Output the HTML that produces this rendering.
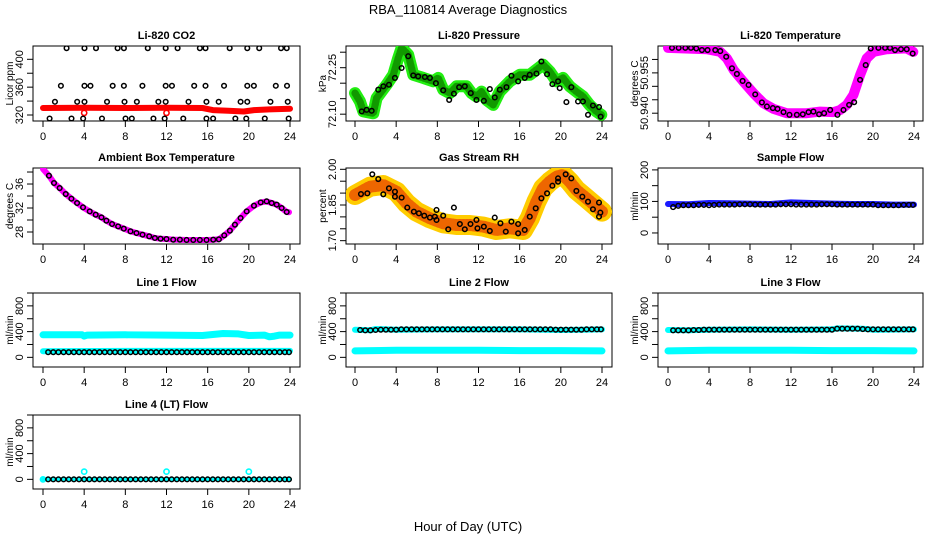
<!DOCTYPE html>
<html><head><meta charset="utf-8"><style>
html,body{margin:0;padding:0;background:#fff;}
svg{display:block;font-family:"Liberation Sans",sans-serif;}
</style></head><body>
<svg id="chart" width="936" height="540" viewBox="0 0 936 540" xmlns="http://www.w3.org/2000/svg">
<text x="468" y="14" text-anchor="middle" font-size="13">RBA_110814  Average Diagnostics</text>
<text x="468" y="531" text-anchor="middle" font-size="13">Hour of Day (UTC)</text>
</svg>
<script>
// ---------- data ----------
const X_TICKS = [0,4,8,12,16,20,24];

// CO2
const CO2_BAND_H = [0,4,8,12,15.5,16.5,18,19.5,20.5,22,24];
const CO2_BAND_V = [330,330.5,330,330.5,330,327,326,325,327,328,329];
const CO2_OUT_H = [4,12];
const CO2_OUT_V = [323,323];
const CO2_H = [2.29,4.03,5.15,7.25,7.86,10.18,11.92,13.08,15.24,15.79,18.14,19.85,21.01,23.13,23.68,
 1.74,4.03,4.61,6.77,7.86,9.66,11.92,12.53,14.69,15.79,17.59,19.85,20.49,22.62,23.71,
 1.16,3.32,4.03,6.22,7.92,9.12,11.21,11.92,14.14,15.88,17.07,19.2,19.85,22.1,23.78,
 0.64,2.77,3.9,5.73,8.02,8.63,10.73,11.82,13.63,15.88,16.53,18.69,19.75,21.55,23.87];
const CO2_V = [416,416,416,416,416,416,416,416,416,416,416,416,416,416,416,
 362,362,362,362,362,362,362,362,362,362,362,362,362,362,362,
 339,339,339,339,339,339,339,339,339,339,339,339,339,339,339,
 315,315,315,315,315,315,315,315,315,315,315,315,315,315,315];

// Pressure
const PR_BAND_H = [0,0.49,0.81,1.78,2.10,3.07,3.72,4.2,4.53,5.17,5.66,6.63,7.6,8.08,8.57,9.22,9.86,10.83,11.32,11.81,12.29,12.78,13.43,14.07,15.04,16.01,16.98,18.27,18.92,19.57,20.21,20.86,21.51,22.15,22.8,23.45,23.93];
const PR_BAND_V = [72.168,72.141,72.109,72.103,72.152,72.195,72.227,72.281,72.314,72.292,72.227,72.217,72.206,72.217,72.179,72.168,72.190,72.190,72.168,72.157,72.173,72.146,72.130,72.173,72.206,72.227,72.227,72.260,72.238,72.206,72.217,72.190,72.173,72.157,72.130,72.109,72.098];
const PR_H = [0.65,1.13,1.62,2.26,2.75,3.30,3.88,4.53,5.17,5.66,6.14,6.79,7.28,7.86,8.57,9.15,9.61,10.12,10.67,11.25,11.80,12.52,13.10,13.58,14.07,14.72,15.20,15.85,16.49,16.98,17.63,18.11,18.66,19.18,19.73,19.89,20.54,21.02,21.67,22.15,22.64,23.12,23.71,23.87];
const PR_V = [72.109,72.114,72.111,72.179,72.190,72.195,72.217,72.249,72.287,72.225,72.222,72.220,72.217,72.200,72.177,72.146,72.166,72.187,72.190,72.168,72.146,72.143,72.181,72.154,72.179,72.187,72.224,72.206,72.217,72.227,72.231,72.270,72.229,72.197,72.206,72.184,72.139,72.187,72.141,72.141,72.098,72.128,72.123,72.092];

// Li-820 temperature
const TE_BAND_H = [0,3.80,5.10,5.75,6.40,7.37,8.35,9.32,10.29,11.59,13.54,14.84,16.14,16.79,17.44,18.09,18.74,19.39,20.04,21.34,23.29,23.93];
const TE_BAND_V = [50.9643,50.9638,50.9628,50.9604,50.9561,50.9517,50.9474,50.9437,50.9416,50.9400,50.9400,50.9406,50.9404,50.9412,50.9431,50.9468,50.9542,50.9604,50.9628,50.9638,50.9641,50.9628];
const TE_H = [0.39,1.04,1.69,2.24,2.76,3.31,3.86,4.61,5.10,5.68,6.24,6.72,7.28,7.86,8.51,9.16,9.65,10.23,10.69,11.27,11.85,12.57,13.15,13.71,14.19,14.74,15.23,15.82,16.53,17.12,17.67,18.16,18.74,19.29,19.78,20.53,21.18,21.66,22.15,22.73,23.29,23.87];
const TE_V = [50.9643,50.9643,50.9643,50.9643,50.9641,50.9635,50.9635,50.9635,50.9631,50.9610,50.9567,50.9546,50.9520,50.9505,50.9470,50.9440,50.9425,50.9419,50.9416,50.9404,50.9394,50.9394,50.9396,50.9404,50.9406,50.9396,50.9400,50.9412,50.9394,50.9412,50.9431,50.9441,50.9524,50.9579,50.9641,50.9643,50.9643,50.9643,50.9635,50.9638,50.9638,50.9622];

// Ambient box temperature
const AM_BAND_H = [0,0.58,1.07,1.62,2.21,2.76,3.31,3.89,4.54,5.12,5.68,6.16,6.71,7.30,7.85,8.50,9.08,9.67,10.32,10.87,11.42,12.0,12.65,13.30,13.95,14.60,15.24,15.89,16.54,17.09,17.61,18.16,18.65,19.20,19.79,20.50,21.15,21.73,22.22,22.71,23.19,23.68,23.9];
const AM_BAND_V = [38.5,37.39,36.17,35.33,34.33,33.56,32.83,32.11,31.44,30.89,30.44,29.89,29.33,28.94,28.56,28.11,27.83,27.56,27.28,27.0,26.89,26.83,26.72,26.72,26.67,26.67,26.67,26.67,26.72,26.78,27.44,28.22,29.22,30.33,31.44,32.39,32.94,33.11,32.83,32.56,32.0,31.33,31.3];
const AM_H = [0.58,1.07,1.62,2.21,2.76,3.31,3.89,4.54,5.12,5.68,6.16,6.71,7.30,7.85,8.50,9.08,9.67,10.32,10.87,11.42,12.0,12.65,13.30,13.95,14.60,15.24,15.89,16.54,17.09,17.61,18.16,18.65,19.20,19.79,20.50,21.15,21.73,22.22,22.71,23.19,23.68];
const AM_V = [37.39,36.17,35.33,34.33,33.56,32.83,32.11,31.44,30.89,30.44,29.89,29.33,28.94,28.56,28.11,27.83,27.56,27.28,27.0,26.89,26.83,26.72,26.72,26.67,26.67,26.67,26.67,26.72,26.78,27.44,28.22,29.22,30.33,31.44,32.39,32.94,33.11,32.83,32.56,32.0,31.33];

// Gas stream RH
const RH_BAND_H = [0,1.46,2.75,4.04,5.01,5.98,7.28,8.57,9.86,11.16,12.45,13.74,15.04,16.33,16.98,17.63,18.27,18.92,19.57,20.21,20.86,21.51,22.48,23.45,24.0];
const RH_BAND_V = [1.892,1.927,1.934,1.906,1.857,1.822,1.794,1.773,1.766,1.766,1.759,1.745,1.752,1.745,1.794,1.864,1.920,1.948,1.969,1.976,1.948,1.913,1.878,1.843,1.822];
const RH_H = [0.58,1.20,1.68,2.26,2.75,3.30,3.88,3.88,4.53,5.08,5.72,6.21,6.73,7.28,7.76,7.92,7.92,8.57,9.06,9.61,10.19,10.67,11.22,11.80,11.90,12.52,13.10,13.58,14.13,14.65,15.20,15.85,15.85,16.49,16.98,17.56,18.11,18.66,19.18,19.73,19.73,20.47,21.02,21.51,22.09,22.64,23.12,23.71,23.71,23.84];
const RH_V = [1.896,1.899,1.979,1.959,1.895,1.920,1.906,1.885,1.881,1.839,1.822,1.815,1.805,1.797,1.801,1.787,1.829,1.805,1.748,1.839,1.770,1.748,1.770,1.787,1.752,1.759,1.741,1.797,1.773,1.738,1.780,1.770,1.731,1.745,1.801,1.836,1.878,1.899,1.931,1.962,1.948,1.979,1.962,1.909,1.885,1.864,1.832,1.860,1.801,1.818];

// Flow panels (shared black-point hours)
const FLOW_H = [0.5,1,1.5,2,2.5,3,3.5,4,4.5,5,5.5,6,6.5,7,7.5,8,8.5,9,9.5,10,10.5,11,11.5,12,12.5,13,13.5,14,14.5,15,15.5,16,16.5,17,17.5,18,18.5,19,19.5,20,20.5,21,21.5,22,22.5,23,23.5,23.9];
const SF_V = [82,86,88,88,88,89,89,88,89,90,90,90,90,91,91,91,90,90,90,90,90,91,91,91,90,90,90,90,90,91,91,91,90,90,90,90,90,90,90,90,88,88,88,88,88,89,89,89];
const SF_BAND_H = [0,2,4,6,8,10,12,14,16,18,20,22,24];
const SF_BAND_V = [92,91,95,94,93,92,97,95,93,92,92,90,90];
const L1_V = [80,80,80,80,80,80,80,80,80,80,80,80,80,80,80,80,80,80,80,80,80,80,80,80,80,80,80,80,80,80,80,80,80,80,80,80,80,80,80,80,80,80,80,80,80,80,80,80];
const L1_HI_H = [0,3.8,4,4.3,8,12,15.5,16.5,17.5,19,20,21.5,22,22.5,23,24];
const L1_HI_V = [350,350,330,345,350,345,340,355,370,365,340,345,320,330,345,345];
const L1_LO_H = [0,8,16,24];
const L1_LO_V = [95,100,100,100];
const L2_V = [425,420,420,425,430,430,430,430,435,435,435,435,435,435,435,435,435,435,435,435,435,435,435,435,435,435,435,435,435,435,435,435,435,435,435,435,435,435,430,430,430,430,430,430,435,435,435,435];
const L2_HI_H = [0,1.5,2,4,8,12,16,20,22,24];
const L2_HI_V = [430,420,440,430,435,435,435,425,430,435];
const L2_LO_H = [0,4,12,16,20,24];
const L2_LO_V = [100,110,110,105,105,100];
const L3_V = [420,420,420,420,425,425,430,430,430,430,430,430,430,430,430,430,430,430,430,430,430,430,430,430,430,430,430,430,430,430,430,430,445,445,445,445,445,440,435,435,435,435,435,435,435,435,435,435];
const L3_HI_H = [0,2,4,8,12,16,16.5,19,20,24];
const L3_HI_V = [425,420,430,435,430,435,450,445,430,435];
const L3_LO_H = [0,4,12,16,20,24];
const L3_LO_V = [100,110,110,105,105,100];
const L4_V = [0,0,0,0,0,0,0,0,0,0,0,0,0,0,0,0,0,0,0,0,0,0,0,0,0,0,0,0,0,0,0,0,0,0,0,0,0,0,0,0,0,0,0,0,0,0,0,0];
const L4_BAND_H = [0,24];
const L4_BAND_V = [0,0];
const L4_OUT_H = [0,4,12,20];
const L4_OUT_V = [0,120,120,120];

// ---------- drawing ----------
const NS = "http://www.w3.org/2000/svg";
const svg = document.getElementById("chart");
function mk(tag, attrs, parent){
  const e = document.createElementNS(NS, tag);
  for (const k in attrs) e.setAttribute(k, attrs[k]);
  (parent||svg).appendChild(e);
  return e;
}
const COLS = [
  {bl:33, br:300, h0:43, h24:290},
  {bl:346, br:612, h0:355, h24:602},
  {bl:658, br:923, h0:668, h24:914}
];
const ROWS = [{t:46,b:121},{t:168,b:244},{t:293,b:367},{t:415,b:489}];

function panel(o){
  const c = COLS[o.col], r = ROWS[o.row];
  const g = mk("g", {});
  
  
  const sx = h => c.h0 + (h/24)*(c.h24 - c.h0);
  const sy = v => r.b - (v - o.ymin)/(o.ymax - o.ymin)*(r.b - r.t);
  const t = mk("text", {x:(c.bl+c.br)/2, y:r.t-7, "text-anchor":"middle", "font-size":11, "font-weight":"bold"}, g);
  t.textContent = o.title;
  
  
  const box = mk("rect", {x:c.bl, y:r.t, width:c.br-c.bl, height:r.b-r.t, fill:"none", stroke:"#000", "stroke-width":1}, g);
  
  
  const xa = mk("g", {}, g);
  
  
  X_TICKS.forEach(h => {
    mk("line", {x1:sx(h), x2:sx(h), y1:r.b, y2:r.b+6, stroke:"#000"}, xa);
    const lt = mk("text", {x:sx(h), y:r.b+19, "text-anchor":"middle", "font-size":11}, xa);
    lt.textContent = String(h);
    
    
  });
  const ya = mk("g", {}, g);
  
  
  o.yticks.forEach(v => {
    const y = sy(v);
    mk("line", {x1:c.bl-6, x2:c.bl, y1:y, y2:y, stroke:"#000"}, ya);
  });
  o.ylabels.forEach(v => {
    const y = sy(v);
    const lt = mk("text", {x:c.bl-10, y:y, "text-anchor":"middle", "font-size":11, transform:`rotate(-90 ${c.bl-10} ${y})`}, ya);
    lt.textContent = o.fmt ? o.fmt(v) : String(v);
    
    
  });
  const yt = mk("text", {x:c.bl-20, y:(r.t+r.b)/2, "text-anchor":"middle", "font-size":10, transform:`rotate(-90 ${c.bl-20} ${(r.t+r.b)/2})`}, g);
  yt.textContent = o.ytitle;
  
  
  const clipId = "clip" + o.name;
  const cp = mk("clipPath", {id:clipId}, g);
  mk("rect", {x:c.bl, y:r.t, width:c.br-c.bl, height:r.b-r.t}, cp);
  const data = mk("g", {"clip-path":`url(#${clipId})`}, g);
  (o.bands||[]).forEach(b => {
    const pts = b.h.map((h,i) => sx(h).toFixed(1)+","+sy(b.v[i]).toFixed(1)).join(" ");
    const pl = mk("polyline", {points:pts, fill:"none", stroke:b.color, "stroke-width":b.w, "stroke-linejoin":"round", "stroke-linecap":"round"}, data);
    
    
    if (b.inner){
      const pl2 = mk("polyline", {points:pts, fill:"none", stroke:b.inner, "stroke-width":b.w*0.6, "stroke-linejoin":"round", "stroke-linecap":"round", "stroke-dasharray":"1.5 2"}, data);
      
      
    }
  });
  (o.outliers||[]).forEach(s => {
    s.h.forEach((h,i) => {
      const ci = mk("circle", {cx:sx(h), cy:sy(s.v[i]), r:2.6, fill:"none", stroke:s.color, "stroke-width":1.6}, data);
      
      
    });
  });
  o.ph.forEach((h,i) => {
    const ci = mk("circle", {cx:sx(h), cy:sy(o.pv[i]), r:2.3, fill:"none", stroke:"#000", "stroke-width":1.5}, data);
    
    
  });
}

const FLOW_TICKS = [0,200,400,600,800,1000];
const FLOW_LABELS = [0,400,800];

panel({name:"panel-co2", title:"Li-820 CO2", col:0,row:0, ymin:311.4, ymax:419.1, yticks:[320,340,360,380,400], ylabels:[320,360,400], ytitle:"Licor ppm",
  bands:[{h:CO2_BAND_H, v:CO2_BAND_V, color:"#ff0000", w:6}], outliers:[{h:CO2_OUT_H, v:CO2_OUT_V, color:"#ff0000"}], ph:CO2_H, pv:CO2_V});
panel({name:"panel-pressure", title:"Li-820 Pressure", col:1,row:0, ymin:72.078, ymax:72.320, yticks:[72.10,72.15,72.20,72.25,72.30], ylabels:[72.10,72.25], fmt:v=>v.toFixed(2), ytitle:"kPa",
  bands:[{h:PR_BAND_H, v:PR_BAND_V, color:"#22ee11", w:12, inner:"#119900"}], ph:PR_H, pv:PR_V});
panel({name:"panel-li820-temp", title:"Li-820 Temperature", col:2,row:0, ymin:50.9371, ymax:50.9650, yticks:[50.940,50.945,50.950,50.955,50.960], ylabels:[50.940,50.955], fmt:v=>v.toFixed(3), ytitle:"degrees C",
  bands:[{h:TE_BAND_H, v:TE_BAND_V, color:"#ff00ff", w:10}], ph:TE_H, pv:TE_V});
panel({name:"panel-ambient-temp", title:"Ambient Box Temperature", col:0,row:1, ymin:26, ymax:38.67, yticks:[28,30,32,34,36,38], ylabels:[28,32,36], ytitle:"degrees C",
  bands:[{h:AM_BAND_H, v:AM_BAND_V, color:"#ff00ff", w:6}], ph:AM_H, pv:AM_V});
panel({name:"panel-rh", title:"Gas Stream RH", col:1,row:1, ymin:1.686, ymax:2.0055, yticks:[1.70,1.75,1.80,1.85,1.90,1.95,2.00], ylabels:[1.70,1.85,2.00], fmt:v=>v.toFixed(2), ytitle:"percent",
  bands:[{h:RH_BAND_H, v:RH_BAND_V, color:"#ffcc00", w:20, inner:"#ee6600"}], ph:RH_H, pv:RH_V});
panel({name:"panel-sample-flow", title:"Sample Flow", col:2,row:1, ymin:-35, ymax:206, yticks:[0,50,100,150,200], ylabels:[0,100,200], ytitle:"ml/min",
  bands:[{h:SF_BAND_H, v:SF_BAND_V, color:"#1a1aff", w:6}], ph:FLOW_H, pv:SF_V});
panel({name:"panel-line1-flow", title:"Line 1 Flow", col:0,row:2, ymin:-150, ymax:1000, yticks:FLOW_TICKS, ylabels:FLOW_LABELS, ytitle:"ml/min",
  bands:[{h:L1_HI_H, v:L1_HI_V, color:"#00ffff", w:7},{h:L1_LO_H, v:L1_LO_V, color:"#00ffff", w:6}], ph:FLOW_H, pv:L1_V});
panel({name:"panel-line2-flow", title:"Line 2 Flow", col:1,row:2, ymin:-150, ymax:1000, yticks:FLOW_TICKS, ylabels:FLOW_LABELS, ytitle:"ml/min",
  bands:[{h:L2_HI_H, v:L2_HI_V, color:"#00ffff", w:6},{h:L2_LO_H, v:L2_LO_V, color:"#00ffff", w:7}], ph:FLOW_H, pv:L2_V});
panel({name:"panel-line3-flow", title:"Line 3 Flow", col:2,row:2, ymin:-150, ymax:1000, yticks:FLOW_TICKS, ylabels:FLOW_LABELS, ytitle:"ml/min",
  bands:[{h:L3_HI_H, v:L3_HI_V, color:"#00ffff", w:6},{h:L3_LO_H, v:L3_LO_V, color:"#00ffff", w:7}], ph:FLOW_H, pv:L3_V});
panel({name:"panel-line4-flow", title:"Line 4 (LT) Flow", col:0,row:3, ymin:-150, ymax:1000, yticks:FLOW_TICKS, ylabels:FLOW_LABELS, ytitle:"ml/min",
  bands:[{h:L4_BAND_H, v:L4_BAND_V, color:"#00ffff", w:4}], outliers:[{h:L4_OUT_H, v:L4_OUT_V, color:"#00ffff"}], ph:FLOW_H, pv:L4_V});
</script>
</body></html>
